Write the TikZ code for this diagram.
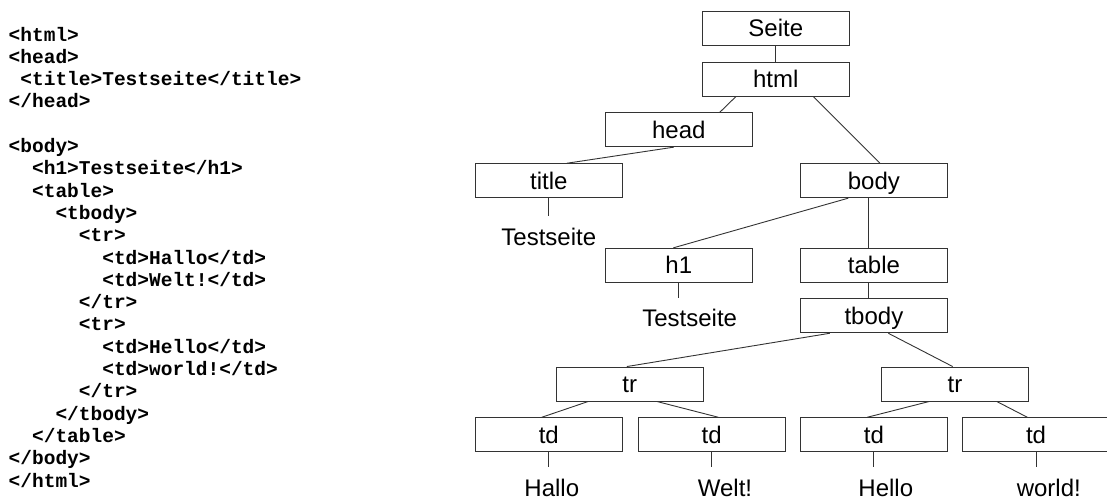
\documentclass[tikz,border=0pt]{standalone}
\usepackage{fontspec}
\setmainfont{Liberation Sans}
\newfontfamily\codefont{Liberation Mono}
\begin{document}
\begin{tikzpicture}[x=1pt,y=-1pt,
  box/.style={draw=black!80, line width=0.9pt, minimum width=146.5pt, minimum height=34pt,
    inner sep=0pt, text height=20pt, text depth=3.2pt, font=\fontsize{24}{28}\selectfont},
  leaf/.style={anchor=base, inner sep=0pt, text height=17.5pt, text depth=0pt,
    font=\fontsize{24}{28}\selectfont},
  code/.style={anchor=base west, inner sep=0pt, font=\codefont\bfseries\fontsize{19.5}{22}\selectfont},
  conn/.style={draw=black!80, line width=0.9pt}]
\useasboundingbox (0,0) rectangle (1107,499);
\clip (0,0) rectangle (1107,499);
% code listing
\def\cw{11.7}
\node[code] (c1)  at (8.5, 41.0) {<html>};
\node[code] (c2)  at (8.5, 63.3) {<head>};
\node[code] (c3)  at (8.5+1*\cw, 85.6) {<title>Testseite</title>};
\node[code] (c4)  at (8.5, 107.9) {</head>};
\node[code] (c6)  at (8.5, 152.5) {<body>};
\node[code] (c7)  at (8.5+2*\cw, 174.8) {<h1>Testseite</h1>};
\node[code] (c8)  at (8.5+2*\cw, 197.1) {<table>};
\node[code] (c9)  at (8.5+4*\cw, 219.4) {<tbody>};
\node[code] (c10) at (8.5+6*\cw, 241.7) {<tr>};
\node[code] (c11) at (8.5+8*\cw, 264.0) {<td>Hallo</td>};
\node[code] (c12) at (8.5+8*\cw, 286.3) {<td>Welt!</td>};
\node[code] (c13) at (8.5+6*\cw, 308.6) {</tr>};
\node[code] (c14) at (8.5+6*\cw, 330.9) {<tr>};
\node[code] (c15) at (8.5+8*\cw, 353.2) {<td>Hello</td>};
\node[code] (c16) at (8.5+8*\cw, 375.5) {<td>world!</td>};
\node[code] (c17) at (8.5+6*\cw, 397.8) {</tr>};
\node[code] (c18) at (8.5+4*\cw, 420.1) {</tbody>};
\node[code] (c19) at (8.5+2*\cw, 442.4) {</table>};
\node[code] (c20) at (8.5, 464.7) {</body>};
\node[code] (c21) at (8.5, 487.0) {</html>};
% tree boxes
\node[box] (seite) at (775.8, 28.3) {Seite};
\node[box] (html)  at (775.8, 79.2) {html};
\node[box] (head)  at (678.8, 129.7) {head};
\node[box] (title) at (548.8, 180.7) {title};
\node[box] (body)  at (873.9, 180.7) {body};
\node[box] (h1)    at (678.8, 265.3) {h1};
\node[box] (table) at (873.9, 265.3) {table};
\node[box] (tbody) at (873.9, 315.8) {tbody};
\node[box] (tra)   at (629.8, 384.0) {tr};
\node[box] (trb)   at (955.0, 384.0) {tr};
\node[box] (tda)   at (548.8, 434.7) {td};
\node[box] (tdb)   at (711.7, 434.7) {td};
\node[box] (tdc)   at (873.9, 434.7) {td};
\node[box] (tdd)   at (1036.0, 434.7) {td};
% leaf texts
\node[leaf] (ltitle) at (548.8, 245.0) {Testseite};
\node[leaf] (lh1)    at (689.7, 326.7) {Testseite};
\node[leaf] (la)     at (551.8, 496.0) {Hallo};
\node[leaf] (lb)     at (725.0, 496.0) {Welt!};
\node[leaf] (lc)     at (885.8, 496.0) {Hello};
\node[leaf] (ld)     at (1048.8, 496.0) {world!};
% connectors
\draw[conn] (seite.south) -- (html.north);
\draw[conn] ([xshift=-40pt]html.south) -- ([xshift=41pt]head.north);
\draw[conn] ([xshift=37.6pt]html.south) -- ([xshift=6pt]body.north);
\draw[conn] ([xshift=-5pt]head.south) -- ([xshift=18pt]title.north);
\draw[conn] ([xshift=-25.6pt]body.south) -- ([xshift=-5.5pt]h1.north);
\draw[conn] ([xshift=-5pt]body.south) -- ([xshift=-5pt]table.north);
\draw[conn] ([xshift=-5pt]table.south) -- ([xshift=-5pt]tbody.north);
\draw[conn] ([xshift=-44pt]tbody.south) -- ([xshift=-3pt]tra.north);
\draw[conn] ([xshift=14.4pt]tbody.south) -- ([xshift=-2.3pt]trb.north);
\draw[conn] ([xshift=-41.5pt]tra.south) -- ([xshift=-7pt]tda.north);
\draw[conn] ([xshift=27pt]tra.south) -- ([xshift=6.6pt]tdb.north);
\draw[conn] ([xshift=-25.7pt]trb.south) -- ([xshift=-6.6pt]tdc.north);
\draw[conn] ([xshift=41.7pt]trb.south) -- ([xshift=-8.7pt]tdd.north);
\draw[conn] (title.south) -- ([yshift=11pt]ltitle.north -| title.south);
\draw[conn] (h1.south) -- ([yshift=11pt]lh1.north -| h1.south);
\draw[conn] (tda.south) -- ([yshift=11pt]la.north -| tda.south);
\draw[conn] (tdb.south) -- ([yshift=11pt]lb.north -| tdb.south);
\draw[conn] (tdc.south) -- ([yshift=11pt]lc.north -| tdc.south);
\draw[conn] (tdd.south) -- ([yshift=11pt]ld.north -| tdd.south);
\end{tikzpicture}
\end{document}
